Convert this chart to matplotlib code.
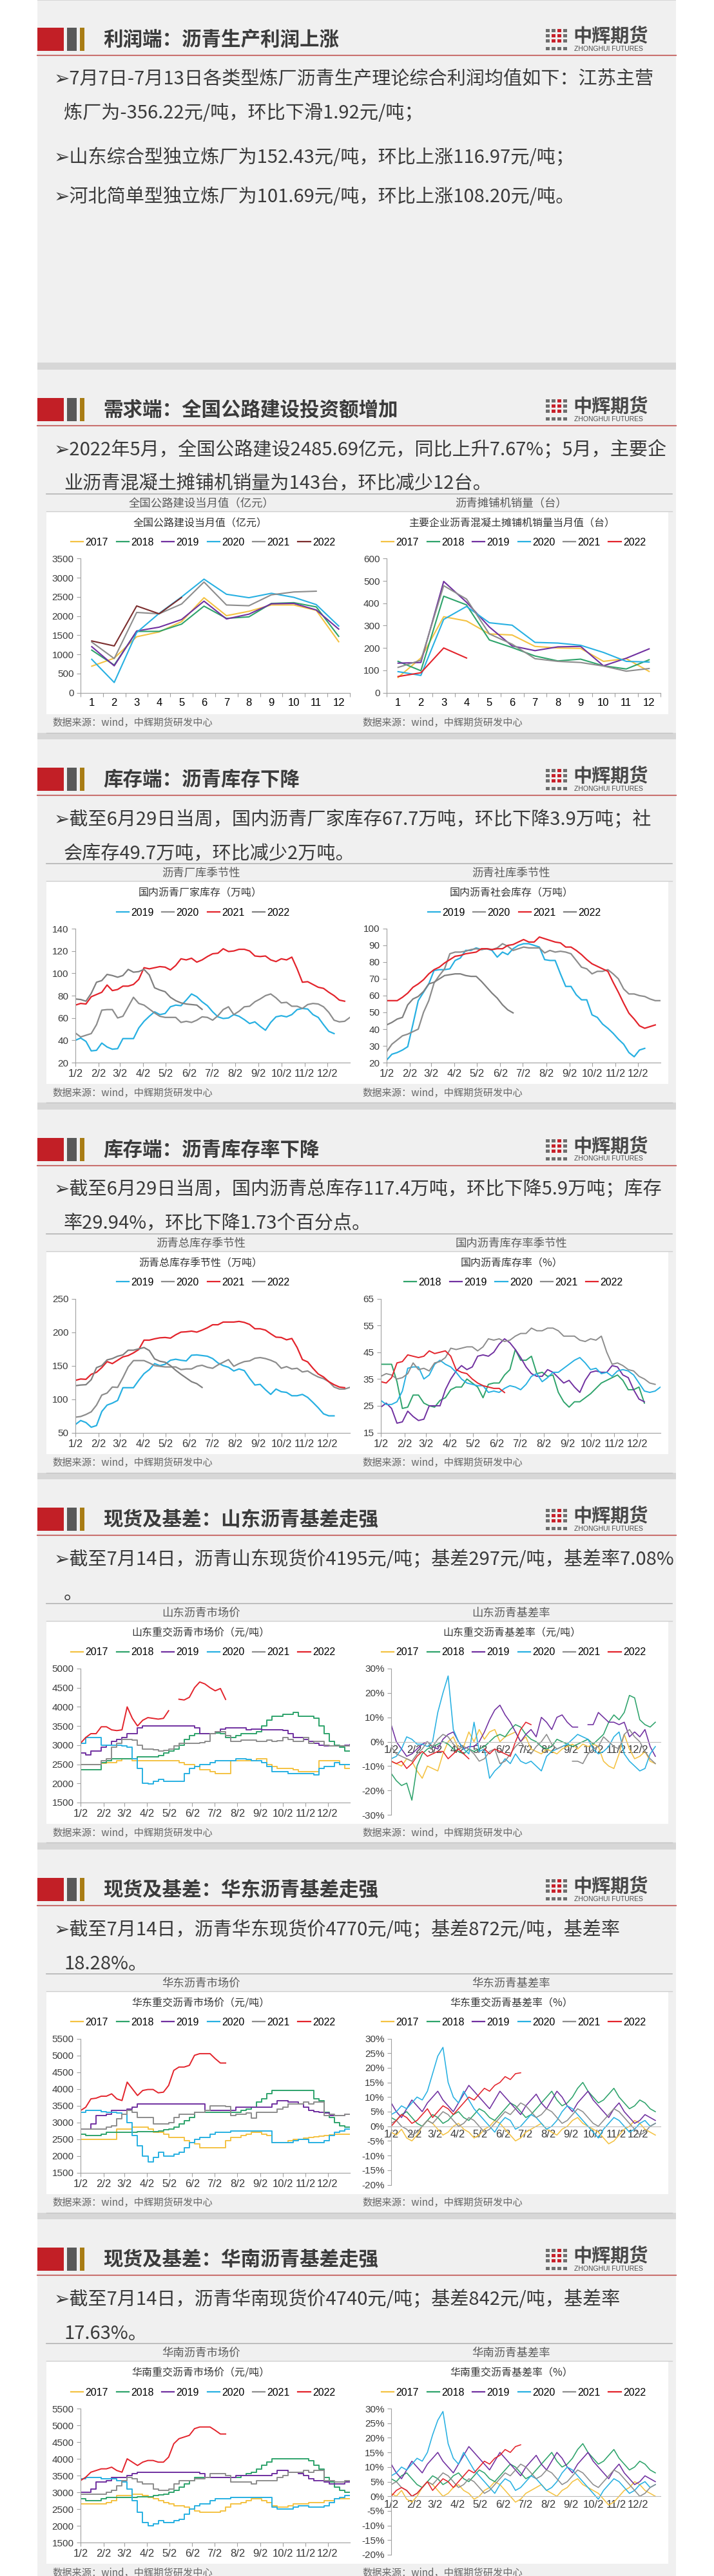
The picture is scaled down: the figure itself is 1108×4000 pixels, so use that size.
import numpy as np
import matplotlib
matplotlib.use("Agg")
import matplotlib.pyplot as plt
from matplotlib.patches import Rectangle
from matplotlib.lines import Line2D

nan = np.nan

# ---------------- data ----------------
months = list(range(1, 13))
month_labels = [str(m) for m in months]
season_ticks = [1, 32, 60, 91, 121, 152, 182, 213, 244, 274, 305, 335]
season_labels = ['1/2', '2/2', '3/2', '4/2', '5/2', '6/2', '7/2', '8/2', '9/2', '10/2', '11/2', '12/2']

# 全国公路建设当月值（亿元）
road_2017 = [691, 900, 1460, 1585, 1855, 2480, 2010, 2125, 2290, 2290, 2150, 1330]
road_2018 = [1110, 720, 1600, 1600, 1790, 2260, 1940, 1980, 2330, 2350, 2240, 1470]
road_2019 = [1200, 700, 1610, 1710, 1910, 2390, 1925, 2050, 2320, 2330, 2160, 1660]
road_2020 = [870, 265, 1570, 2070, 2500, 2965, 2570, 2480, 2595, 2490, 2300, 1740]
road_2021 = [1320, 890, 2095, 2060, 2315, 2890, 2290, 2270, 2555, 2630, 2650]
road_2022 = [1350, 1220, 2265, 2060, 2486]

# 主要企业沥青混凝土摊铺机销量当月值（台）
paver_2017 = [68, 155, 340, 321, 263, 258, 207, 200, 198, 140, 152, 95]
paver_2018 = [140, 98, 432, 393, 236, 202, 164, 142, 150, 120, 106, 147]
paver_2019 = [132, 135, 498, 405, 294, 209, 188, 205, 207, 120, 154, 196]
paver_2020 = [94, 77, 328, 386, 313, 302, 225, 222, 212, 180, 140, 137]
paver_2021 = [113, 145, 479, 419, 263, 217, 152, 140, 135, 119, 96, 108]
paver_2022 = [72, 89, 200, 155]

# 国内沥青厂家库存（万吨），周度
plant_2019 = [40, 42, 39, 30.5, 31, 37.5, 34, 32, 32.5, 41.5, 41.5, 41.5, 51, 57, 61.5, 65.5, 63, 64, 70, 71.5,
              71, 76, 81.5, 79, 74.5, 71, 65.5, 61, 59.5, 60, 63, 61.5, 58.5, 55, 56.5, 52.5, 49, 56, 61, 62,
              61, 63, 67.5, 68.5, 68, 63, 60.5, 54, 48, 46]
plant_2020 = [46.5, 43, 44.5, 46, 54, 67, 67.5, 67.5, 60, 61.5, 70, 78.5, 73, 71.5, 68, 64.5, 61.5, 60.5, 60.5,
              60.5, 56, 57, 56, 58, 61, 60.5, 58, 62, 67.5, 70, 63, 66, 70, 70.5, 74.5, 77, 80, 81.5, 78, 73.5,
              74, 70.5, 70.5, 68.5, 72, 73, 72.5, 70, 65, 58, 56.5, 57, 60.5]
plant_2021 = [71.5, 73, 72.5, 79, 81, 83, 89.5, 84.5, 85.5, 88.5, 88.5, 90, 94.5, 105, 104, 105, 106, 105.5, 103,
              107, 113, 112, 113.5, 110, 112, 115, 117.5, 118, 122, 119.5, 120, 121.5, 121.5, 120, 115.5, 115,
              115.5, 112, 110.5, 113, 112, 114.5, 104, 92, 92.5, 90, 87.5, 86.5, 83, 80, 76, 75]
plant_2022 = [77, 76.5, 75, 82, 92, 93.5, 99, 98, 96.5, 98, 103.5, 101, 101.5, 103.5, 98.5, 87, 85, 83.5, 78.5,
              75.5, 73.5, 72.5, 72, 71.5, 67.7]

# 国内沥青社会库存（万吨），周度
social_2019 = [21.5, 25, 26, 27.5, 29.5, 43, 57, 62, 67, 75, 75.5, 75.5, 76, 81, 82.5, 87, 87, 88.5, 87.5, 88,
               87, 83, 86, 84.5, 88, 90, 91, 91, 90, 89, 81.5, 81, 81, 73, 65.5, 65.5, 60.5, 57.5, 57.5, 48.5,
               47, 43, 40.5, 37.5, 34, 31, 26, 23.5, 27.5, 28.5]
social_2020 = [26.5, 31, 33.5, 36, 37, 38.5, 40, 50, 57, 67.5, 72, 76, 85, 86, 86, 86.5, 87.5, 88, 87.5, 88,
               87.5, 88.5, 91, 89.5, 87, 88, 89, 88.5, 88.5, 88.5, 85.5, 87, 86, 86.5, 86, 85, 81, 77, 76, 73,
               74.5, 74.5, 75.5, 73, 70, 64, 61, 61, 60, 59.5, 58, 57, 57]
social_2021 = [57, 57, 57, 59, 61.5, 65, 67, 69.5, 73, 75.5, 77, 79.5, 81.5, 83.5, 84, 85, 85.5, 86, 88, 88,
               87.5, 88, 88, 90, 90.5, 92, 93.5, 92, 92, 95, 94, 93, 92, 91.5, 89, 89, 87, 84.5, 81.5, 79,
               77.5, 76, 74.5, 68, 62, 55.5, 49.5, 46, 42, 40.5, 41.5, 42.5]
social_2022 = [42.5, 44, 46, 47, 54.5, 58, 59.5, 62.5, 67, 68, 70, 72, 72.5, 73, 73, 72, 71.5, 71.5, 68.5, 65,
               61.5, 58.5, 54.5, 51.5, 49.7]

# 沥青总库存（万吨），周度
total_2019 = [62, 68, 65, 58, 60.5, 81.5, 91, 94, 98, 117, 117, 117, 128, 138, 144, 153, 150, 152, 158, 159.5,
              158, 157, 165.5, 166, 165, 164, 160.5, 154, 150, 147.5, 142, 145, 142.5, 131, 121, 122, 114, 107,
              115, 111, 110, 105, 105, 107, 102.5, 95, 87, 78, 75, 75]
total_2020 = [73, 74, 77, 81, 91, 106, 109, 118, 117.5, 132, 148, 157.5, 157.5, 157.5, 154, 150, 149, 148, 148,
              148, 144, 145, 145, 149, 150.5, 147.5, 146, 151, 155, 159, 149, 153, 156, 157, 161, 162, 160.5,
              158, 154.5, 146, 148.5, 145, 146, 140.5, 142, 137, 133, 130.5, 126, 118, 115, 115, 117.5]
total_2021 = [128, 130, 129.5, 137, 140, 147, 156, 153, 158, 163, 165, 169, 174, 188, 188, 190, 191.5, 192, 191,
              196, 200, 200.5, 201.5, 200, 203, 206.5, 211, 211, 215, 215, 215, 216, 214.5, 211.5, 205, 205,
              203, 197.5, 192.5, 192, 188.5, 190.5, 177, 159, 155.5, 146, 137.5, 133, 126, 121.5, 118, 117]
total_2022 = [120, 121, 121.5, 129, 147, 150, 158.5, 160.5, 164, 166, 173, 173, 175, 177, 172.5, 160, 156.5,
              155, 150, 143, 137, 131.5, 126, 123, 117.4]

# 国内沥青库存率（%），周度
rate_2018 = [40.5, 40.5, 40.5, 34, 24, 24.5, 29, 29, 26, 25, 24.5, 27, 28, 31, 32, 32, 35, 33.5, 32, 28, 33,
             33.5, 33.5, 36.5, 38.5, 46, 42, 42, 43.5, 37, 37.5, 36, 36.5, 30, 26.5, 24.5, 26.5, 26.5, 28, 29.5,
             31.5, 33.5, 34.5, 35.5, 36.5, 34.5, 31, 31, 32, 26]
rate_2019 = [24.5, 26, 24, 18.5, 19, 23, 21, 19.5, 20, 25, 25, 25, 31, 35, 38, 40, 38.5, 39.5, 43.5, 44, 43.5,
             45, 48, 50, 48.5, 46, 43, 39.5, 37, 36, 36, 38.5, 37.5, 35.5, 33.5, 34.5, 32, 30, 34.5, 37.5, 38,
             37.5, 37.5, 40, 39.5, 36.5, 35.5, 31, 27.5, 26.5]
rate_2020 = [27, 25.5, 25.5, 26.5, 30.5, 39, 39.5, 39.5, 35, 36.5, 40.5, 42, 40.5, 39.5, 37.5, 35, 33.5, 33,
             32.5, 32.5, 30, 30.5, 30, 31.5, 32.5, 32, 31, 33, 36, 37, 34, 35.5, 37.5, 37.5, 39, 40.5, 42, 43,
             41, 38.5, 39, 37, 37.5, 36, 38, 38.5, 38, 36.5, 33.5, 30.5, 30, 30.5, 32]
rate_2021 = [36, 37, 36.5, 35, 35.5, 37, 41, 38.5, 39, 38, 41, 41.5, 43, 46.5, 46, 46.5, 47, 47, 45.5, 47, 50,
             49.5, 50, 49, 49.5, 51, 52, 52, 54, 53, 53, 54, 54, 53, 51, 51, 51, 49.5, 49, 50, 49.5, 51, 45,
             40.5, 41, 40, 38.5, 38, 36, 35, 33.5, 33]
rate_2022 = [34, 33.5, 35.5, 41, 41.5, 44, 43.5, 43, 43.5, 45.5, 44.5, 45, 45.5, 43.5, 38.5, 37.5, 37, 35, 33.5,
             32.5, 32, 31.5, 31.5, 29.94]

# 山东重交沥青市场价（元/吨），周度采样
sd_price_2017 = [2500, 2500, 2500, 2500, 2530, 2550, 2550, 2600, 2650, 2650, 2600, 2600, 2600, 2600, 2600, 2600,
                 2600, 2600, 2600, 2550, 2500, 2500, 2450, 2350, 2350, 2300, 2250, 2250, 2250, 2600, 2600, 2600,
                 2600, 2600, 2650, 2650, 2500, 2450, 2400, 2400, 2400, 2350, 2300, 2300, 2300, 2300, 2600, 2600,
                 2600, 2600, 2500, 2400, 2400]
sd_price_2018 = [2350, 2350, 2350, 2350, 2550, 2600, 2650, 2650, 2650, 2650, 2650, 2700, 2700, 2700, 2700, 2720,
                 2800, 2850, 2900, 3000, 3150, 3250, 3300, 3300, 3300, 3300, 3320, 3300, 3200, 3200, 3250, 3300,
                 3300, 3300, 3350, 3500, 3650, 3750, 3750, 3800, 3800, 3850, 3750, 3750, 3750, 3700, 3500, 3300,
                 3100, 3000, 2950, 2850, 2850]
sd_price_2019 = [2800, 2750, 2850, 2850, 2950, 3000, 3100, 3150, 3200, 3300, 3300, 3450, 3500, 3500, 3500, 3500,
                 3500, 3500, 3500, 3500, 3500, 3500, 3450, 3300, 3300, 3300, 3350, 3420, 3450, 3450, 3450, 3450,
                 3400, 3420, 3420, 3400, 3400, 3400, 3400, 3380, 3300, 3200, 3200, 3150, 3100, 3050, 3000, 2980,
                 2980, 2980, 2980, 3000, 3020]
sd_price_2020 = [3050, 3200, 3200, 3200, 3000, 3000, 3000, 3000, 2980, 2950, 2650, 2400, 2000, 1980, 2050, 2100,
                 2050, 2050, 2050, 2050, 2250, 2400, 2450, 2500, 2500, 2550, 2600, 2600, 2600, 2600, 2650, 2650,
                 2620, 2600, 2600, 2550, 2450, 2300, 2300, 2300, 2250, 2250, 2250, 2250, 2250, 2220, 2400, 2450,
                 2450, 2550, 2500, 2500, 2500]
sd_price_2021 = [2500, 2500, 2500, 2500, 2600, 2650, 2950, 3050, 3150, 3150, 3130, 3000, 2900, 2900, 2880, 2850,
                 2870, 2900, 2980, 3050, 3050, 3050, 3050, 3060, 3100, 3300, 3350, 3350, 3250, 3100, 3100, 3130,
                 3130, 3130, 3100, 3100, 3130, 3100, 3120, 3200, 3150, 3100, 3100, 3200, 3050, 3100, 3100, 3000,
                 2980, 2980, 2980, 2980, 3000]
sd_price_2022 = [3050, 3200, 3300, 3300, 3480, 3480, 3400, 3380, 3400, 4000, 3700, 3500, 3650, 3720, 3700, 3680,
                 3700, 3900, nan, 4200, 4180, 4250, 4500, 4650, 4600, 4500, 4420, 4480, 4195]

# 山东重交沥青基差率（%），周度采样
sd_basis_2017 = [-8, -9, -10, -7, -8, -12, -15, -10, -11, -12, -5, 0, 2, -3, -2, 4, 0, 5, 1, 4, 5, 0, 2, 3, 4, 0,
                 2, -3, -4, -5, -3, -4, -5, -3, -2, -1, -3, -1, -2, -1, -2, -8, -10, -11, -5, 3, -3, -7, -6, -4,
                 -8, -9]
sd_basis_2018 = [-13, -16, -18, -17, -24, -10, -5, -3, -2, -1, 0, -1, -3, -4, -5, -3, -4, -3, -2, 0, 2, 3, 2, 5,
                 7, 6, 3, 1, 0, -2, -3, -2, 1, 0, -1, -2, -1, 0, 1, -1, 1, 3, 8, 11, 9, 12, 19, 18, 9, 7, 6, 8]
sd_basis_2019 = [7, 0, -3, -6, -5, -3, -1, 0, -2, -3, 1, 3, 4, 0, -3, -2, -2, 0, 4, 9, 13, 15, 11, 8, 4, 0, 3, 5,
                 2, 10, 8, 5, 10, 11, 8, 6, 6, nan, 7, 7, 12, 10, 8, 8, 7, 8, 2, 4, 2, 5, -2, -6]
sd_basis_2020 = [-7, -6, -3, 2, 1, -1, -1, -2, 0, 12, 20, 27, 5, 0, -3, -5, 8, -4, -3, -15, -12, -10, -7, -9, -5,
                 -8, -9, -8, -10, -12, -6, -4, -3, -2, -1, 1, 3, 2, 1, -3, -5, -4, -2, 2, 4, -5, -8, -10, -12,
                 -11, -5, -2]
sd_basis_2021 = [-2, -5, -6, -7, -8, -5, -3, 0, -2, 1, 3, 2, -1, -3, -2, -3, -5, -8, -7, -4, -3, -9, -8, -5, -2,
                 0, -3, -5, -2, 0, 3, -1, -3, -2, nan, -8, -8, -9, -5, -3, -2, 2, 0, -2, -3, 3, 5, 2, 0, -4, -7,
                 -9]
sd_basis_2022 = [-8, -9, -8, -11, -9, -6, -4, -6, -5, -4, -4, -7, -5, -3, -5, -7, nan, nan, -3, -5, -3, -4, -5,
                 -6, 0, 5, 8, 7]

# 华东重交沥青市场价（元/吨），周度采样
hd_price_2017 = [2500, 2500, 2500, 2500, 2500, 2500, 2500, 2800, 2800, 2800, 2850, 2850, 2850, 2800, 2700, 2700,
                 2650, 2550, 2550, 2550, 2450, 2400, 2350, 2250, 2250, 2250, 2250, 2250, 2450, 2550, 2550, 2600,
                 2650, 2700, 2700, 2650, 2600, 2400, 2400, 2400, 2450, 2500, 2500, 2520, 2550, 2570, 2580, 2600,
                 2620, 2650, 2650, 2650, 2650]
hd_price_2018 = [2650, 2600, 2600, 2600, 2650, 2700, 2700, 2700, 2700, 2700, 2700, 2720, 2720, 2720, 2720, 2750,
                 2780, 2800, 2850, 2950, 3050, 3150, 3300, 3300, 3300, 3300, 3300, 3300, 3300, 3300, 3300, 3350,
                 3400, 3450, 3600, 3700, 3850, 3950, 3950, 3950, 3950, 3950, 3950, 3950, 3950, 3700, 3650, 3300,
                 3150, 3000, 2900, 2850, 2850]
hd_price_2019 = [2800, 2800, 2950, 3200, 3200, 3250, 3350, 3350, 3350, 3400, 3450, 3550, 3550, 3550, 3550, 3550,
                 3550, 3550, 3550, 3550, 3550, 3550, 3550, 3550, 3350, 3350, 3350, 3350, 3350, 3350, 3450, 3450,
                 3450, 3450, 3450, 3450, 3450, 3550, 3650, 3650, 3600, 3600, 3550, 3450, 3350, 3320, 3300, 3280,
                 3200, 3200, 3200, 3250, 3250]
hd_price_2020 = [3300, 3350, 3350, 3350, 3320, 3300, 3300, 3280, 3250, 3000, 2600, 2300, 2000, 1820, 1950, 2100,
                 2000, 2000, 2050, 2100, 2250, 2400, 2500, 2550, 2550, 2650, 2700, 2700, 2700, 2750, 2750, 2750,
                 2750, 2750, 2750, 2750, 2750, 2400, 2400, 2400, 2400, 2450, 2500, 2500, 2400, 2400, 2400, 2450,
                 2600, 2700, 2750, 2800, 2800]
hd_price_2021 = [2800, 2800, 2800, 2800, 2800, 2850, 2900, 3100, 3250, 3350, 3300, 3150, 3150, 3150, 2950, 2950,
                 2950, 3000, 3150, 3250, 3250, 3250, 3300, 3300, 3350, 3500, 3500, 3500, 3480, 3200, 3250, 3250,
                 3280, 3120, 3300, 3300, 3300, 3300, 3400, 3450, 3550, 3550, 3550, 3600, 3550, 3600, 3600, 3200,
                 3250, 3200, 3200, 3250, 3250]
hd_price_2022 = [3350, 3450, 3700, 3720, 3780, 3780, 3850, 3700, 3650, 4200, 4000, 3800, 3950, 3980, 3980, 3880,
                 3900, 4100, 4550, 4650, 4650, 4700, 5000, 5050, 5050, 5050, 4900, 4770, 4770]

# 华东重交沥青基差率（%），周度采样（粗读）
hd_basis_2017 = [-2, -3, -1, -4, -5, -3, 0, 2, 1, -1, -3, -2, 0, 1, -1, -2, -4, -3, -1, 0, 2, 1, -1, -3, -5, -4,
                 -2, -1, 0, 1, -1, -2, -3, -1, 0, 2, 3, 1, 0, -1, -2, -4, -6, -5, -3, -1, 0, 2, 1, -1, -2, -3]
hd_basis_2018 = [3, 2, 4, 5, 3, 1, 0, 2, 4, 3, 1, 2, 4, 5, 3, 2, 4, 6, 5, 3, 2, 4, 6, 8, 7, 5, 3, 4, 6, 8, 10,
                 12, 9, 7, 8, 10, 13, 15, 12, 10, 8, 9, 11, 13, 10, 8, 6, 7, 9, 8, 6, 5]
hd_basis_2019 = [8, 5, 3, 6, 9, 7, 5, 8, 10, 12, 9, 7, 5, 8, 11, 14, 12, 10, 8, 6, 9, 12, 10, 8, 6, 4, 7, 9, 11,
                 8, 6, 9, 12, 10, 7, 5, 8, 10, 12, 9, 7, 5, 3, 6, 8, 5, 3, 1, 2, 4, 3, 2]
hd_basis_2020 = [4, 5, 7, 6, 8, 10, 9, 12, 18, 24, 27, 15, 10, 8, 12, 9, 6, 4, 2, 0, -2, 1, 3, 2, -1, 0, 2, 4, 3,
                 1, -1, 0, 2, 5, 7, 6, 4, 2, 0, -2, -4, -1, 1, 3, 2, 0, -2, -1, 1, 2, 0, 1]
hd_basis_2021 = [1, 2, 0, -1, -3, -2, 0, 2, 1, 3, 5, 4, 2, 0, 1, 3, 2, 0, -2, -1, 1, 3, 5, 4, 6, 8, 7, 5, 3, 4, 6,
                 5, 3, 1, 2, 4, 6, 5, 3, 1, 0, 2, 4, 6, 5, 3, 1, -1, -3, -2, 0, 1]
hd_basis_2022 = [0, 2, 4, 3, 1, 2, 4, 6, 3, 5, 7, 6, 4, 6, 8, 10, 9, 11, 13, 12, 14, 15, 17, 16, 18, 18.3]

# 华南重交沥青市场价（元/吨），周度采样（粗读）
hn_price_2017 = [2650, 2650, 2650, 2650, 2650, 2700, 2750, 2900, 2900, 2900, 2950, 2950, 2900, 2850, 2800, 2750,
                 2700, 2650, 2600, 2600, 2550, 2500, 2450, 2400, 2400, 2400, 2400, 2450, 2550, 2650, 2650, 2700,
                 2750, 2800, 2800, 2750, 2700, 2600, 2550, 2550, 2600, 2650, 2650, 2650, 2700, 2700, 2700, 2750,
                 2750, 2800, 2800, 2800, 2800]
hn_price_2018 = [2800, 2750, 2750, 2750, 2800, 2850, 2850, 2850, 2850, 2850, 2850, 2870, 2870, 2870, 2900, 2920,
                 2950, 3000, 3050, 3150, 3250, 3350, 3450, 3450, 3450, 3450, 3450, 3450, 3450, 3450, 3450, 3500,
                 3550, 3600, 3700, 3800, 3900, 4000, 4000, 4000, 4000, 4000, 4000, 4000, 3950, 3800, 3700, 3450,
                 3300, 3150, 3050, 3000, 3000]
hn_price_2019 = [3000, 3000, 3100, 3300, 3300, 3350, 3450, 3450, 3450, 3500, 3550, 3600, 3600, 3600, 3600, 3600,
                 3600, 3600, 3600, 3600, 3600, 3600, 3600, 3550, 3450, 3450, 3450, 3450, 3450, 3450, 3500, 3500,
                 3500, 3500, 3500, 3500, 3500, 3550, 3650, 3650, 3600, 3600, 3550, 3500, 3400, 3350, 3350, 3300,
                 3250, 3250, 3250, 3300, 3300]
hn_price_2020 = [3400, 3450, 3450, 3450, 3400, 3400, 3400, 3350, 3300, 3100, 2750, 2400, 2100, 2000, 2050, 2150,
                 2100, 2100, 2150, 2200, 2350, 2500, 2600, 2650, 2650, 2750, 2800, 2800, 2800, 2850, 2850, 2850,
                 2850, 2850, 2850, 2850, 2850, 2550, 2500, 2500, 2500, 2550, 2600, 2600, 2550, 2550, 2550, 2600,
                 2700, 2800, 2850, 2900, 2900]
hn_price_2021 = [2950, 2950, 2950, 2950, 2950, 3000, 3050, 3200, 3350, 3450, 3400, 3300, 3250, 3250, 3100, 3050,
                 3050, 3100, 3250, 3350, 3350, 3350, 3400, 3400, 3450, 3550, 3550, 3550, 3500, 3300, 3300, 3300,
                 3300, 3250, 3350, 3350, 3350, 3350, 3450, 3500, 3600, 3600, 3600, 3650, 3600, 3650, 3650, 3350,
                 3350, 3300, 3300, 3350, 3350]
hn_price_2022 = [3350, 3450, 3600, 3650, 3700, 3700, 3750, 3650, 3600, 4000, 3900, 3800, 3900, 3950, 3950, 3900,
                 3900, 4050, 4450, 4600, 4650, 4700, 4900, 4950, 4950, 4950, 4850, 4740, 4740]

# 华南重交沥青基差率（%），周度采样（粗读）
hn_basis_2017 = [1, 0, 2, -1, -2, 0, 3, 5, 4, 2, 0, 1, 3, 4, 2, 1, -1, 0, 2, 3, 5, 4, 2, 0, -2, -1, 1, 2, 3, 4,
                 2, 1, 0, 2, 3, 5, 6, 4, 3, 2, 1, -1, -3, -2, 0, 2, 3, 5, 4, 2, 1, 0]
hn_basis_2018 = [6, 5, 7, 8, 6, 4, 3, 5, 7, 6, 4, 5, 7, 8, 6, 5, 7, 9, 8, 6, 5, 7, 9, 11, 10, 8, 6, 7, 9, 11, 13,
                 15, 12, 10, 11, 13, 16, 18, 15, 13, 11, 12, 14, 16, 13, 11, 9, 10, 12, 11, 9, 8]
hn_basis_2019 = [11, 8, 6, 9, 12, 10, 8, 11, 13, 15, 12, 10, 8, 11, 14, 17, 15, 13, 11, 9, 12, 15, 13, 11, 9, 7,
                 10, 12, 14, 11, 9, 12, 15, 13, 10, 8, 11, 13, 15, 12, 10, 8, 6, 9, 11, 8, 6, 4, 5, 7, 6, 5]
hn_basis_2020 = [7, 8, 10, 9, 11, 13, 12, 15, 21, 26, 29, 18, 13, 11, 15, 12, 9, 7, 5, 3, 1, 4, 6, 5, 2, 3, 5, 7,
                 6, 4, 2, 3, 5, 8, 10, 9, 7, 5, 3, 1, -1, 2, 4, 6, 5, 3, 1, 2, 4, 5, 3, 4]
hn_basis_2021 = [4, 5, 3, 2, 0, 1, 3, 5, 4, 6, 8, 7, 5, 3, 4, 6, 5, 3, 1, 2, 4, 6, 8, 7, 9, 11, 10, 8, 6, 7, 9, 8,
                 6, 4, 5, 7, 9, 8, 6, 4, 3, 5, 7, 9, 8, 6, 4, 2, 0, 1, 3, 4]
hn_basis_2022 = [0, 2, 3, 2, 0, 1, 3, 5, 2, 4, 6, 5, 3, 5, 7, 9, 8, 10, 12, 11, 13, 14, 16, 15, 17, 17.6]

years6 = ['2017', '2018', '2019', '2020', '2021', '2022']
years4 = ['2019', '2020', '2021', '2022']
years5 = ['2018', '2019', '2020', '2021', '2022']

titles = ['利润端：沥青生产利润上涨', '需求端：全国公路建设投资额增加', '库存端：沥青库存下降',
          '库存端：沥青库存率下降', '现货及基差：山东沥青基差走强', '现货及基差：华东沥青基差走强',
          '现货及基差：华南沥青基差走强']
bullets = [
    ['➢7月7日-7月13日各类型炼厂沥青生产理论综合利润均值如下：江苏主营', '炼厂为-356.22元/吨，环比下滑1.92元/吨；',
     '➢山东综合型独立炼厂为152.43元/吨，环比上涨116.97元/吨；', '➢河北简单型独立炼厂为101.69元/吨，环比上涨108.20元/吨。'],
    ['➢2022年5月，全国公路建设2485.69亿元，同比上升7.67%；5月，主要企', '业沥青混凝土摊铺机销量为143台，环比减少12台。'],
    ['➢截至6月29日当周，国内沥青厂家库存67.7万吨，环比下降3.9万吨；社', '会库存49.7万吨，环比减少2万吨。'],
    ['➢截至6月29日当周，国内沥青总库存117.4万吨，环比下降5.9万吨；库存', '率29.94%，环比下降1.73个百分点。'],
    ['➢截至7月14日，沥青山东现货价4195元/吨；基差297元/吨，基差率7.08%', '。'],
    ['➢截至7月14日，沥青华东现货价4770元/吨；基差872元/吨，基差率', '18.28%。'],
    ['➢截至7月14日，沥青华南现货价4740元/吨；基差842元/吨，基差率', '17.63%。'],
]
subtitles = [None, ('全国公路建设当月值（亿元）', '沥青摊铺机销量（台）'), ('沥青厂库季节性', '沥青社库季节性'),
             ('沥青总库存季节性', '国内沥青库存率季节性'), ('山东沥青市场价', '山东沥青基差率'),
             ('华东沥青市场价', '华东沥青基差率'), ('华南沥青市场价', '华南沥青基差率')]
inner_titles = [None, ('全国公路建设当月值（亿元）', '主要企业沥青混凝土摊铺机销量当月值（台）'),
                ('国内沥青厂家库存（万吨）', '国内沥青社会库存（万吨）'),
                ('沥青总库存季节性（万吨）', '国内沥青库存率（%）'),
                ('山东重交沥青市场价（元/吨）', '山东重交沥青基差率（元/吨）'),
                ('华东重交沥青市场价（元/吨）', '华东重交沥青基差率（%）'),
                ('华南重交沥青市场价（元/吨）', '华南重交沥青基差率（%）')]

# ---------------- style ----------------
W, H = 1108, 4000
STEP = 574.5
CJK = ['Noto Sans CJK SC', 'DejaVu Sans']
NUM = ['Liberation Sans', 'Noto Sans CJK SC', 'DejaVu Sans']
plt.rcParams['font.family'] = NUM
plt.rcParams['axes.unicode_minus'] = False

col = {'2017': '#f4c242', '2018': '#2ea36b', '2019': '#7030a0', '2020': '#27b0e2',
       '2021': '#8c8c8c', '2022': '#e3232b'}
col_road22 = '#7b2d2d'

fig = plt.figure(figsize=(W / 100, H / 100), dpi=100)
fig.patch.set_facecolor('white')
bg = fig.add_axes([0, 0, 1, 1])
bg.set_xlim(0, W)
bg.set_ylim(H, 0)
bg.axis('off')


def draw_panel(k):
    b = k * STEP
    bg.add_patch(Rectangle((58, b - 1), 991, 565, color='#f0f0f0', lw=0))
    bg.add_patch(Rectangle((58, b + 563), 991, 12, color='#d7d7d7', lw=0))
    if k == 0:
        bg.add_patch(Rectangle((58, -10), 991, 11, color='#d7d7d7', lw=0))
    # header blocks
    bg.add_patch(Rectangle((58, b + 43), 41, 36, color='#c21f26', lw=0))
    bg.add_patch(Rectangle((104, b + 43), 15, 36, color='#595959', lw=0))
    bg.add_patch(Rectangle((124, b + 43), 7, 36, color='#a87c14', lw=0))
    bg.text(160, b + 62, titles[k], fontsize=22, fontweight='bold', color='#3b3b3b', va='center',
            family=CJK)
    # logo
    for r in range(3):
        for c in range(4):
            cc = '#c8202a' if (c in (1, 2) and r > 0) or (c == 2) else '#6e6e6e'
            bg.add_patch(Rectangle((847 + c * 9, b + 45 + r * 8), 6, 5, color=cc, lw=0))
    for c in range(4):
        bg.add_patch(Rectangle((847 + c * 9, b + 73), 6, 5, color='#6e6e6e', lw=0))
    bg.text(889, b + 56, '中辉期货', fontsize=21, fontweight='bold', color='#4a4a4a', va='center',
            family=CJK)
    bg.text(891, b + 76, 'ZHONGHUI FUTURES', fontsize=7.5, color='#4a4a4a', va='center')
    bg.plot([58, 1049], [b + 86, b + 86], color='#c9716f', lw=1.5)
    # bullets
    lines = bullets[k]
    ys = [123, 176, 245, 306] if k == 0 else [124, 177]
    for t, y in zip(lines, ys):
        x = 84 if t.startswith('➢') else 99
        bg.text(x, b + y, t, fontsize=21, color='#3a3a3a', va='center', family=CJK)
    if subtitles[k] is None:
        return
    bg.plot([72, 1043], [b + 192, b + 192], color='#b5b5b5', lw=1.2)
    bg.plot([72, 1043], [b + 219, b + 219], color='#cfcfcf', lw=1.0)
    bg.add_patch(Rectangle((72, b + 219), 965, 315, color='white', lw=0))
    bg.text(312, b + 207, subtitles[k][0], fontsize=12.5, color='#595959', ha='center', va='center',
            family=CJK)
    bg.text(793, b + 207, subtitles[k][1], fontsize=12.5, color='#595959', ha='center', va='center',
            family=CJK)
    bg.text(311, b + 238, inner_titles[k][0], fontsize=11.5, color='#333333', ha='center', va='center',
            family=CJK)
    bg.text(794, b + 238, inner_titles[k][1], fontsize=11.5, color='#333333', ha='center', va='center',
            family=CJK)
    src = '数据来源：wind，中辉期货研发中心'
    bg.text(81, b + 548, src, fontsize=11, color='#666666', va='center', family=CJK)
    bg.text(562, b + 548, src, fontsize=11, color='#666666', va='center', family=CJK)
    bg.plot([72, 1043], [b + 563, b + 563], color='#c4c4c4', lw=1.0)


def make_axes(k, x0, x1, top=293, bottom=501):
    b = k * STEP
    ax = fig.add_axes([x0 / W, 1 - (b + bottom) / H, (x1 - x0) / W, (bottom - top) / H])
    ax.patch.set_visible(False)
    ax.spines['top'].set_visible(False)
    ax.spines['right'].set_visible(False)
    for s in ('left', 'bottom'):
        ax.spines[s].set_color('#a0a0a0')
    ax.tick_params(axis='both', labelsize=11, colors='#3a3a3a', length=4, color='#a0a0a0')
    ax.tick_params(axis='x', labelsize=12)
    return ax


def add_legend(ax, k, cx, labels, colors):
    b = k * STEP
    handles = [Line2D([], [], color=c, lw=1.6) for c in colors]
    ax.legend(handles, labels, loc='center', bbox_to_anchor=(cx / W, 1 - (b + 268) / H),
              bbox_transform=fig.transFigure, ncol=len(labels), frameon=False, fontsize=11.5,
              handlelength=1.2, handletextpad=0.2, columnspacing=0.8)


def season_axis(ax):
    ax.set_xlim(1, 365)
    ax.set_xticks(season_ticks)
    ax.set_xticklabels(season_labels)


def yaxis(ax, lo, hi, step, fmt='{:g}'):
    ax.set_ylim(lo, hi)
    ticks = np.arange(lo, hi + step / 2, step)
    ax.set_yticks(ticks)
    ax.set_yticklabels([fmt.format(t) for t in ticks])


def weekly(ax, values, color, lw=1.4, step=False):
    x = 1 + 7 * np.arange(len(values))
    ax.plot(x, values, color=color, lw=lw, drawstyle='steps-post' if step else 'default')


def month_axis(ax):
    ax.set_xlim(0.5, 12.5)
    ax.set_xticks(np.arange(0.5, 13, 1))
    ax.set_xticklabels([])
    ax.set_xticks(months, minor=True)
    ax.set_xticklabels(month_labels, minor=True)
    ax.tick_params(axis='x', which='minor', length=0, labelsize=12, pad=6)


def price_chart(k, series, lo, hi):
    ax = make_axes(k, 125, 543)
    for y, v in zip(years6, series):
        weekly(ax, v, col[y], lw=1.4, step=(y != '2022'))
    season_axis(ax)
    yaxis(ax, lo, hi, 500)
    add_legend(ax, k, 315, years6, [col[y] for y in years6])
    return ax


def basis_chart(k, x0, series, lo, hi, step):
    ax = make_axes(k, x0, 1025, top=293, bottom=520)
    for y, v in zip(years6, series):
        weekly(ax, v, col[y], lw=1.15)
    ax.spines['bottom'].set_position(('data', 0))
    ax.spines['bottom'].set_color('#bdbdbd')
    season_axis(ax)
    ax.tick_params(axis='x', length=0, pad=4)
    yaxis(ax, lo, hi, step, fmt='{:g}%')
    add_legend(ax, k, 797, years6, [col[y] for y in years6])
    return ax


for k in range(7):
    draw_panel(k)

# ---- panel 2: road / paver ----
ax = make_axes(1, 125, 543)
for y, v in zip(years6, [road_2017, road_2018, road_2019, road_2020, road_2021, road_2022]):
    ax.plot(months[:len(v)], v, color=col_road22 if y == '2022' else col[y], lw=1.5)
month_axis(ax)
yaxis(ax, 0, 3500, 500)
add_legend(ax, 1, 315, years6, [col[y] for y in years6[:5]] + [col_road22])

ax = make_axes(1, 600, 1025)
for y, v in zip(years6, [paver_2017, paver_2018, paver_2019, paver_2020, paver_2021, paver_2022]):
    ax.plot(months[:len(v)], v, color=col[y], lw=1.5)
month_axis(ax)
yaxis(ax, 0, 600, 100)
add_legend(ax, 1, 797, years6, [col[y] for y in years6])

# ---- panel 3: plant / social inventory ----
inv_cols = {'2019': '#27b0e2', '2020': '#8c8c8c', '2021': '#e3232b', '2022': '#7f7f7f'}
ax = make_axes(2, 117, 543)
for y, v in zip(years4, [plant_2019, plant_2020, plant_2021, plant_2022]):
    weekly(ax, v, inv_cols[y], lw=1.6)
season_axis(ax)
yaxis(ax, 20, 140, 20)
add_legend(ax, 2, 315, years4, [inv_cols[y] for y in years4])

ax = make_axes(2, 600, 1025)
for y, v in zip(years4, [social_2019, social_2020, social_2021, social_2022]):
    weekly(ax, v, inv_cols[y], lw=1.6)
season_axis(ax)
yaxis(ax, 20, 100, 10)
add_legend(ax, 2, 798, years4, [inv_cols[y] for y in years4])

# ---- panel 4: total inventory / rate ----
ax = make_axes(3, 117, 543)
for y, v in zip(years4, [total_2019, total_2020, total_2021, total_2022]):
    weekly(ax, v, inv_cols[y], lw=1.6)
season_axis(ax)
yaxis(ax, 50, 250, 50)
add_legend(ax, 3, 315, years4, [inv_cols[y] for y in years4])

ax = make_axes(3, 591, 1025)
for y, v in zip(years5, [rate_2018, rate_2019, rate_2020, rate_2021, rate_2022]):
    weekly(ax, v, col[y], lw=1.4)
season_axis(ax)
yaxis(ax, 15, 65, 10)
add_legend(ax, 3, 797, years5, [col[y] for y in years5])

# ---- panel 5: Shandong ----
price_chart(4, [sd_price_2017, sd_price_2018, sd_price_2019, sd_price_2020, sd_price_2021, sd_price_2022],
            1500, 5000)
basis_chart(4, 607, [sd_basis_2017, sd_basis_2018, sd_basis_2019, sd_basis_2020, sd_basis_2021, sd_basis_2022],
            -30, 30, 10)

# ---- panel 6: East China ----
price_chart(5, [hd_price_2017, hd_price_2018, hd_price_2019, hd_price_2020, hd_price_2021, hd_price_2022],
            1500, 5500)
basis_chart(5, 607, [hd_basis_2017, hd_basis_2018, hd_basis_2019, hd_basis_2020, hd_basis_2021, hd_basis_2022],
            -20, 30, 5)

# ---- panel 7: South China ----
price_chart(6, [hn_price_2017, hn_price_2018, hn_price_2019, hn_price_2020, hn_price_2021, hn_price_2022],
            1500, 5500)
basis_chart(6, 607, [hn_basis_2017, hn_basis_2018, hn_basis_2019, hn_basis_2020, hn_basis_2021, hn_basis_2022],
            -20, 30, 5)

fig.savefig('out.png', dpi=100, facecolor='white')
